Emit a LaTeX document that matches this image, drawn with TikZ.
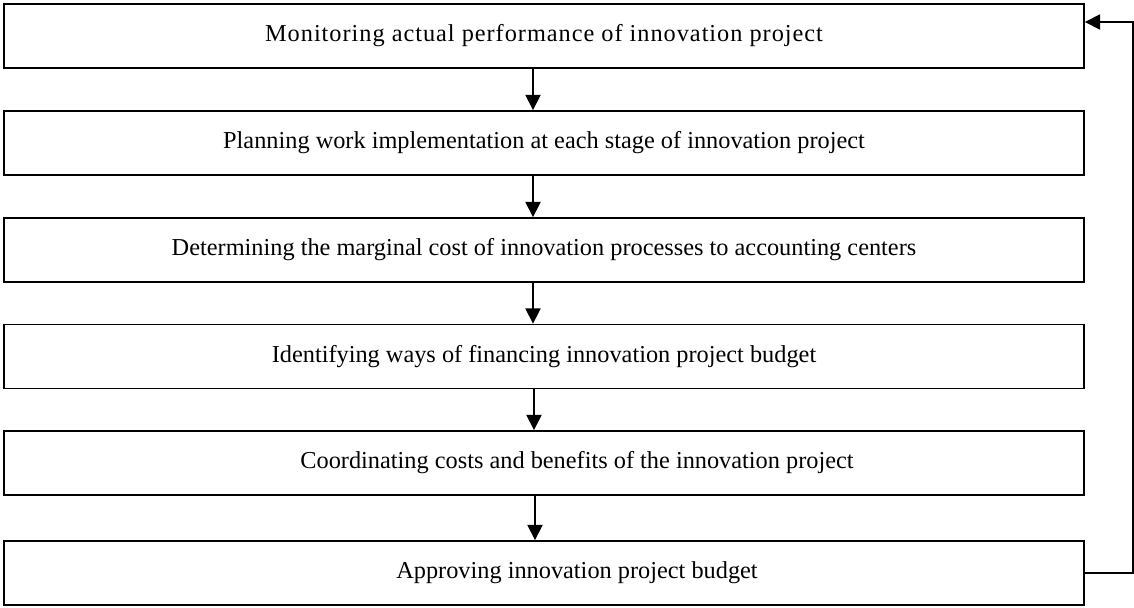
\documentclass[tikz,border=0pt]{standalone}
\usepackage{fontspec}
\setmainfont{Liberation Serif}
\usetikzlibrary{arrows.meta}

\tikzset{
    stagebox/.style={draw, line width=1.3pt, minimum width=27cm, minimum height=1.6cm,
        inner sep=0pt, font=\fontsize{17.3}{20}\selectfont},
    flowarrow/.style={line width=1pt, -{Triangle[length=0.38cm, width=0.38cm]}}
}

\begin{document}
\begin{tikzpicture}
    \useasboundingbox (0,0) rectangle (28.35,-15.175);
    % stages
    \node[stagebox] (monitor) at (13.6,-0.9) {\addfontfeature{LetterSpace=4}Monitoring actual performance of innovation project};
    \node[stagebox] (plan) at (13.6,-3.575) {Planning work implementation at each stage of innovation project};
    \node[stagebox] (cost) at (13.6,-6.25) {Determining the marginal cost of innovation processes to accounting centers};
    \node[stagebox] (finance) at (13.6,-8.9125) {Identifying ways of financing innovation project budget};
    \node[stagebox] (coord) at (13.6,-11.575) {\hspace*{1.65cm}Coordinating costs and benefits of the innovation project};
    \node[stagebox] (approve) at (13.6,-14.325) {\hspace*{1.65cm}Approving innovation project budget};
    % arrows down
    \draw[flowarrow] ([xshift=-0.275cm]monitor.south) -- ([xshift=-0.275cm]plan.north);
    \draw[flowarrow] ([xshift=-0.275cm]plan.south) -- ([xshift=-0.275cm]cost.north);
    \draw[flowarrow] ([xshift=-0.275cm]cost.south) -- ([xshift=-0.275cm]finance.north);
    \draw[flowarrow] ([xshift=-0.25cm]finance.south) -- ([xshift=-0.25cm]coord.north);
    \draw[flowarrow] ([xshift=-0.225cm]coord.south) -- ([xshift=-0.225cm]approve.north);
    % feedback loop
    \draw[flowarrow] (approve.east) -- ++(1.2,0) |- ([yshift=0.35cm]monitor.east);
\end{tikzpicture}
\end{document}
